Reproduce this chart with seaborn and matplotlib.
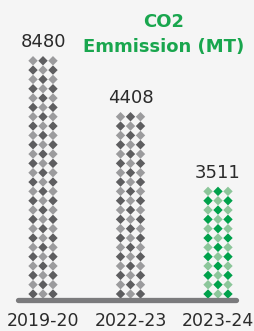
import numpy as np
import pandas as pd
import matplotlib
matplotlib.use("Agg")
import matplotlib.pyplot as plt
import seaborn as sns

# 数据
years = ["2019-20", "2022-23", "2023-24"]
values = [8480, 4408, 3511]
rows = [26, 20, 12]          # 每根柱子的菱形行数
dark_cols = ["#5e5e60", "#5e5e60", "#00a14b"]
light_cols = ["#9b9b9d", "#9b9b9d", "#8cc69a"]

# 菱形点阵
recs = []
for i, (y, n) in enumerate(zip(years, rows)):
    for r in range(n):
        for c in range(3):
            shade = "dark" if (r + c) % 2 == 0 else "light"
            recs.append({"x": i + (c - 1) * 0.114, "row": r, "tone": f"{y}-{shade}"})
df = pd.DataFrame(recs)
pal = {}
for i, y in enumerate(years):
    pal[f"{y}-dark"] = dark_cols[i]
    pal[f"{y}-light"] = light_cols[i]

sns.set_style("white")
plt.rcParams["font.family"] = ["DejaVu Sans"]

fig = plt.figure(figsize=(2.54, 3.31), dpi=100, facecolor="#f5f5f5")
ax = fig.add_axes([0, 26 / 331, 1, 1 - 26 / 331])
ax.set_facecolor("#f5f5f5")

sns.scatterplot(data=df, x="x", y="row", hue="tone", palette=pal, marker="D",
                s=23, linewidth=0, legend=False, ax=ax)

ax.axhline(-0.65, xmin=18 / 254, xmax=236 / 254, color="#7b7b7d", lw=3.8)

for i, (v, n) in enumerate(zip(values, rows)):
    ax.annotate(str(v), (i, n - 1), xytext=(0, 7), textcoords="offset points",
                ha="center", va="bottom", fontsize=13, color="#2b2b2b")

ax.text(1.38, 27.8, "CO2\nEmmission (MT)", ha="center", va="center",
        fontsize=13, fontweight="bold", color="#19a64e", linespacing=1.45)

ax.set_xlim(-43 / 87.5, 211 / 87.5)
ax.set_ylim((294 - 305) / 9.33, 294 / 9.33)
ax.set_xticks(range(3))
ax.set_xticklabels(years, fontsize=12.5, color="#2b2b2b")
ax.tick_params(axis="x", length=0, pad=5)
ax.set_yticks([])
ax.set_xlabel("")
ax.set_ylabel("")
sns.despine(ax=ax, left=True, bottom=True)

fig.savefig("out.png", dpi=100, facecolor=fig.get_facecolor())
